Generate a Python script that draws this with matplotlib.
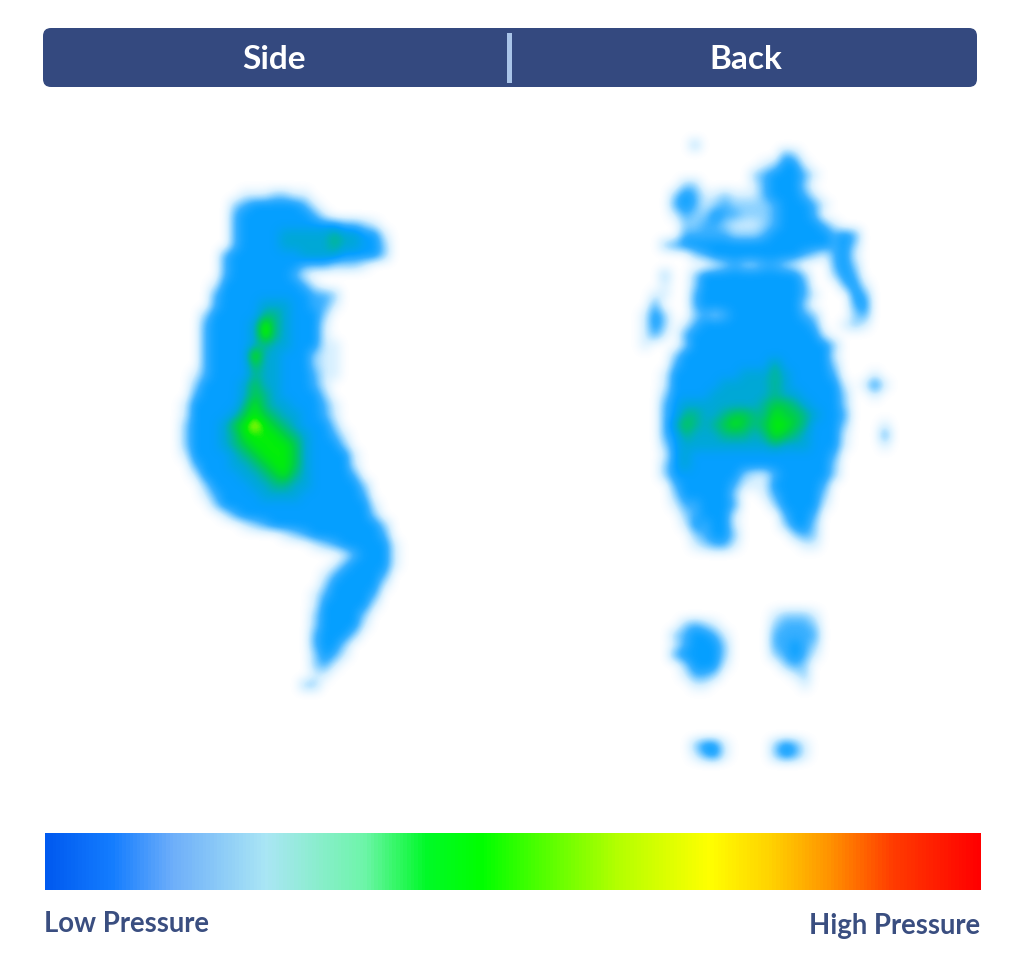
import numpy as np
import matplotlib
matplotlib.use("Agg")
import matplotlib.pyplot as plt
from matplotlib.colors import LinearSegmentedColormap
from matplotlib.patches import FancyBboxPatch, Rectangle

plt.rcParams['font.family'] = ['Lato', 'DejaVu Sans']

# pressure readings per sensor row, one digit per sensor (0 none .. 9 highest)
side_rows = [
    "",
    "00000011122110",
    "00000234444431",
    "000003444444431",
    "00000344444444443321",
    "000003444455555655441",
    "000003444455555655442",
    "000034444444555544442",
    "0000344444443332221",
    "0000344444431",
    "00014444444431",
    "0003444444444332",
    "0003444455544331",
    "002444446654442",
    "003444459654441",
    "003444459654441",
    "0034444565544411",
    "0034444955444211",
    "0034444755444211",
    "0134444655444311",
    "024444575544431",
    "034444576544442",
    "1444446865544431",
    "1444457876554431",
    "2444578987654442",
    "24445688887654431",
    "24445678888754442",
    "144445678887544441",
    "034445567887544441",
    "014444556786544443",
    "0024444556655444442",
    "0013444455554444443",
    "00024444444444444441",
    "00001344444444444442",
    "000000123444444444442",
    "000000000012344444443",
    "0000000000000123444441",
    "0000000000000000134441",
    "0000000000000001344441",
    "000000000000001344443",
    "000000000000002444441",
    "00000000000001344443",
    "00000000000001444441",
    "0000000000000244442",
    "0000000000000244441",
    "000000000000034442",
    "00000000000003442",
    "00000000000002431",
    "0000000000000231",
    "000000000000011",
    "00000000000022",
]

back_rows = [
    "000002",
    "0000000000000032",
    "00000000000012441",
    "000000000002344431",
    "00002200000134442",
    "000243112111344431",
    "0003431232222344431",
    "000132243322234443",
    "00002233211123444431",
    "0000333332223444444343",
    "0023444444444444444342",
    "0000023444444444321341",
    "0000000123223321000342",
    "0020024444444444200243",
    "00100244444444443000341",
    "01100344444444443100043",
    "03000344444444442000034",
    "14200232344444443200023",
    "14201344444444444300121",
    "1310344444444444441",
    "10002444444444444442",
    "00024444444444444441",
    "00034444444446444442",
    "001444444455565444430001",
    "001444445555565444441014 1".replace(" ", ""),
    "0024444555555655444420 01".replace(" ", "")[:24],
    "003455555555677654442",
    "003466556776687765443",
    "0035765678767887644420001",
    "0034655566656876544410003",
    "0024555555555655544410001",
    "00145444444444444443",
    "00245444444444444442",
    "00244444442113444442",
    "0003444443111444443",
    "0002444442001344442",
    "0001334443000244441",
    "000023444100003443",
    "000014344100002442",
    "000002344200000232",
    "000001233100000011",
    "",
    "",
    "",
    "",
    "",
    "",
    "000000000000012221",
    "000023210000023332",
    "000234431000033333",
    "000134442000033432",
    "000344442000023431",
    "00002444100000232",
    "00001332000000012",
    "00000110000000001",
    "",
    "",
    "",
    "",
    "",
    "00000244100002431",
    "00000134100002431",
    "",
]

# colours of the pressure map, one per digit
heat_colors = ["#ffffff", "#d7f0ff", "#8cd2ff", "#37afff", "#059fff",
               "#00a8d7", "#00bb8c", "#00d046", "#00ee0a", "#ffff00"]

# colour bar stops read from the strip
bar_stops = [0.0, 0.07, 0.135, 0.235, 0.34, 0.407, 0.467, 0.546, 0.612, 0.711, 0.777, 0.837, 0.908, 1.0]
bar_colors = ["#005af0", "#147dff", "#6eaffa", "#aae6f5", "#6ef5aa", "#00fa28", "#00ff00",
              "#64ff00", "#b4ff00", "#ffff00", "#ffd200", "#ff9600", "#ff3c00", "#ff0000"]

tab_labels = ["Side", "Back"]
low_label = "Low Pressure"
high_label = "High Pressure"

navy = "#34497f"
text_navy = "#3a4e80"
cell = 10
pad = 3


def to_grid(rows):
    width = max(len(r) for r in rows)
    grid = np.array([[int(c) for c in r.ljust(width, "0")] for r in rows], dtype=float)
    return np.pad(grid, pad)


def draw_map(ax, rows, x0, y0):
    grid = to_grid(rows)
    left = x0 - pad * cell
    top = y0 - pad * cell
    ax.imshow(grid, cmap=heat, vmin=0, vmax=9, interpolation="bicubic", aspect="auto",
              extent=(left, left + cell * grid.shape[1], top + cell * grid.shape[0], top))


fig = plt.figure(figsize=(10.24, 9.69), dpi=100)
ax = fig.add_axes([0, 0, 1, 1])

heat = LinearSegmentedColormap.from_list("heat", heat_colors)
draw_map(ax, side_rows, 180, 180)
draw_map(ax, back_rows, 640, 140)

# header
ax.add_patch(FancyBboxPatch((51, 36), 918, 43, boxstyle="round,pad=8,rounding_size=8",
                            fc=navy, ec="none", zorder=3))
ax.add_patch(Rectangle((507, 33), 5, 50, fc="#a9c4e8", ec="none", zorder=4))
ax.text(274, 59, tab_labels[0], color="white", fontsize=24, fontweight="bold", ha="center", va="center", zorder=5)
ax.text(746, 59, tab_labels[1], color="white", fontsize=24, fontweight="bold", ha="center", va="center", zorder=5)

# colour bar
bar_cmap = LinearSegmentedColormap.from_list("bar", list(zip(bar_stops, bar_colors)))
ax.imshow(np.linspace(0, 1, 936).reshape(1, -1), cmap=bar_cmap, aspect="auto", extent=(45, 981, 890, 833))

ax.text(44, 924, low_label, color=text_navy, fontsize=19.8, fontweight="bold", ha="left", va="center")
ax.text(980, 926, high_label, color=text_navy, fontsize=19.8, fontweight="bold", ha="right", va="center")

ax.set_xlim(0, 1024)
ax.set_ylim(969, 0)
ax.axis("off")

fig.savefig("out.png", dpi=100, facecolor="white")
